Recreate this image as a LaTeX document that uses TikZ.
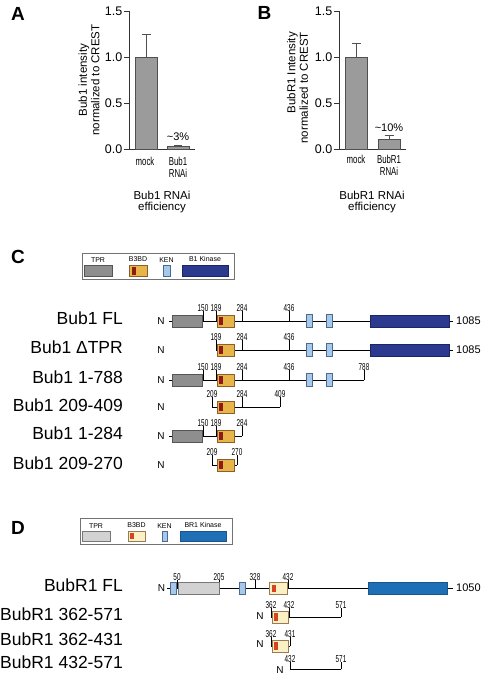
\documentclass[tikz,border=0pt]{standalone}
\usepackage{fontspec}
\setmainfont{Liberation Sans}
\newfontfamily\narrowfont[FakeStretch=0.68]{Liberation Sans}
\newfontfamily\numfont[FakeStretch=0.64]{Liberation Sans}
\usepackage{tikz}
\usetikzlibrary{positioning}
\definecolor{bargray}{HTML}{9B9B9B}
\definecolor{barline}{HTML}{505050}
\definecolor{tprdark}{HTML}{8E8E8E}
\definecolor{tprdarkline}{HTML}{555555}
\definecolor{bubbox}{HTML}{E8B548}
\definecolor{bubcore}{HTML}{8E1C16}
\definecolor{bubboxline}{HTML}{8A5E2E}
\definecolor{kenblue}{HTML}{A8C8EA}
\definecolor{kenline}{HTML}{4B6A92}
\definecolor{bonekin}{HTML}{2B3A8E}
\definecolor{bonekinline}{HTML}{1B2464}
\definecolor{tprlight}{HTML}{D2D2D2}
\definecolor{tprlightline}{HTML}{777777}
\definecolor{bubrbox}{HTML}{FBEFC4}
\definecolor{bubrcore}{HTML}{D4441F}
\definecolor{bubrboxline}{HTML}{9A7A56}
\definecolor{brkin}{HTML}{1F6FB7}
\definecolor{brkinline}{HTML}{1A568C}

\begin{document}
\begin{tikzpicture}[
    x=1pt, y=-1pt,
    panel/.style={inner sep=0pt, font=\fontsize{19}{19}\selectfont\bfseries},
    axisline/.style={line width=0.9pt, black!80},
    bar/.style={draw=barline, fill=bargray, line width=0.8pt},
    errbar/.style={line width=0.9pt, barline},
    ticklab/.style={anchor=east, inner sep=0pt, font=\fontsize{12.5}{12.5}\selectfont},
    catlab/.style={anchor=north, align=center, inner sep=0pt, font=\narrowfont\fontsize{11.5}{12}\selectfont},
    ytitle/.style={rotate=90, inner sep=0pt, font=\fontsize{11.5}{12.5}\selectfont},
    xtitle/.style={align=center, inner sep=0pt, font=\fontsize{11.5}{11.5}\selectfont},
    pctlab/.style={inner sep=0pt, font=\fontsize{11}{11}\selectfont},
    cname/.style={anchor=base east, inner sep=0pt, font=\fontsize{17.5}{17.5}\selectfont},
    nterm/.style={inner sep=0pt, font=\fontsize{10}{10}\selectfont},
    reslab/.style={anchor=base, inner sep=0pt, font=\numfont\fontsize{10}{10}\selectfont},
    endlab/.style={anchor=west, inner sep=0pt, font=\fontsize{11}{11}\selectfont},
    chain/.style={line width=0.8pt},
    restick/.style={line width=0.6pt},
    legendbox/.style={draw=black!55, fill=white, line width=0.8pt},
    legendlab/.style={inner sep=0pt, font=\fontsize{7}{7}\selectfont},
    legitem/.style={inner sep=0pt, minimum height=11pt},
    tprC/.style={draw=tprdarkline, fill=tprdark, line width=0.6pt},
    bubC/.style={draw=bubboxline, fill=bubbox, line width=0.6pt},
    kenbox/.style={draw=kenline, fill=kenblue, line width=0.6pt},
    kinC/.style={draw=bonekinline, fill=bonekin, line width=0.6pt},
    tprD/.style={draw=tprlightline, fill=tprlight, line width=0.6pt},
    bubD/.style={draw=bubrboxline, fill=bubrbox, line width=0.6pt},
    kinD/.style={draw=brkinline, fill=brkin, line width=0.6pt}
]
\useasboundingbox (0,0) rectangle (480,679);

% Panel A: Bub1 RNAi bar chart
\node[panel] (A) at (18,13.5) {A};
\draw[axisline] (129,11) -- (129,149) -- (195,149);
\foreach \v/\y/\n in {0.0/149/t0, 0.5/103/t1, 1.0/57/t2, 1.5/11/t3} {
  \draw[axisline] (124,\y) -- (129,\y);
  \node[ticklab] (a-\n) at (122.5,\y) {\v};
}
\draw[errbar] (146,57) -- (146,34) (141.5,34) -- (150.5,34);
\draw[bar] (135,149) rectangle (157,57);
\draw[errbar] (178,146) -- (178,145.2) (174,145.2) -- (182,145.2);
\draw[bar] (167,149) rectangle (189,146.3);
\node[pctlab] (a-pct) at (178,137) {\textasciitilde 3\%};
\node[catlab] (a-mock) at (145,156.5) {mock};
\node[catlab] (a-rnai) at (178,156.5) {Bub1\\RNAi};
\node[ytitle, align=center] (a-ytitle) at (89,80) {Bub1 intensity\\normalized to CREST};
\node[xtitle] (a-xtitle) at (162,202) {Bub1 RNAi\\efficiency};

% Panel B: BubR1 RNAi bar chart
\node[panel] (B) at (264.5,12.5) {B};
\draw[axisline] (339,11) -- (339,149) -- (406,149);
\foreach \v/\y/\n in {0.0/149/t0, 0.5/103/t1, 1.0/57/t2, 1.5/11/t3} {
  \draw[axisline] (334,\y) -- (339,\y);
  \node[ticklab] (b-\n) at (332.5,\y) {\v};
}
\draw[errbar] (356,57) -- (356,43) (351.5,43) -- (360.5,43);
\draw[bar] (345,149) rectangle (367,57);
\draw[errbar] (389,139) -- (389,135) (384.5,135) -- (393.5,135);
\draw[bar] (378,149) rectangle (400,139);
\node[pctlab] (b-pct) at (389,128) {\textasciitilde 10\%};
\node[catlab] (b-mock) at (356,154.5) {mock};
\node[catlab] (b-rnai) at (389,154.5) {BubR1\\RNAi};
\node[ytitle, align=right, anchor=east] (b-ytitle) at (297.5,32) {BubR1 Intensity\\normalized to CREST};
\node[xtitle] (b-xtitle) at (372,202) {BubR1 RNAi\\efficiency};

% Panel C: Bub1 constructs
\node[panel] (C) at (18,257) {C};
\draw[legendbox] (82,253) rectangle (234,279);
\node[legitem, tprC, minimum width=28pt] (c-leg-tpr) at (98,270.5) {};
\node[legitem, bubC, minimum width=18pt] (c-leg-b3bd) at (138,270.5) {};
\fill[bubcore] (131.5,266.5) rectangle (135.5,274.5);
\node[legitem, kenbox, minimum width=7pt] (c-leg-ken) at (166.5,270.5) {};
\node[legitem, kinC, minimum width=46pt] (c-leg-kin) at (205,270.5) {};
\node[legendlab, above=2.5pt of c-leg-tpr] (c-leg-tpr-t) {TPR};
\node[legendlab, above=2.5pt of c-leg-b3bd] (c-leg-b3bd-t) {B3BD};
\node[legendlab, above=2.5pt of c-leg-ken] (c-leg-ken-t) {KEN};
\node[legendlab, above=2.5pt of c-leg-kin] (c-leg-kin-t) {B1 Kinase};

% Bub1 FL
\node[cname] (c1-name) at (123,324.5) {Bub1 FL};
\node[nterm] (c1-n) at (161,321) {N};
\draw[chain] (169,321) -- (453,321);
\foreach \x/\r in {203/150, 216/189, 242/284, 289/436}
  \draw[restick] (\x,321) -- (\x,311) node[reslab] (c1-\r) {\r};
\draw[tprC] (172,315) rectangle (202,327);
\draw[bubC] (217,315) rectangle (234,327);
\fill[bubcore] (219,317) rectangle (223,325);
\foreach \x in {306,326} \draw[kenbox] (\x,314.5) rectangle ++(6,13);
\draw[kinC] (370,315) rectangle (449,327);
\node[endlab] (c1-end) at (456,321) {1085};

% Bub1 dTPR
\node[cname] (c2-name) at (123,353.5) {Bub1 ΔTPR};
\node[nterm] (c2-n) at (161,350) {N};
\draw[chain] (216,350) -- (453,350);
\foreach \x/\r in {216/189, 242/284, 289/436}
  \draw[restick] (\x,350) -- (\x,340) node[reslab] (c2-\r) {\r};
\draw[bubC] (217,344) rectangle (234,356);
\fill[bubcore] (219,346) rectangle (223,354);
\foreach \x in {306,326} \draw[kenbox] (\x,343.5) rectangle ++(6,13);
\draw[kinC] (370,344) rectangle (449,356);
\node[endlab] (c2-end) at (456,350) {1085};

% Bub1 1-788
\node[cname] (c3-name) at (123,383) {Bub1 1-788};
\node[nterm] (c3-n) at (161,380) {N};
\draw[chain] (169,380) -- (364,380);
\foreach \x/\r in {203/150, 216/189, 242/284, 289/436, 364/788}
  \draw[restick] (\x,380) -- (\x,370) node[reslab] (c3-\r) {\r};
\draw[tprC] (172,374) rectangle (202,386);
\draw[bubC] (217,374) rectangle (234,386);
\fill[bubcore] (219,376) rectangle (223,384);
\foreach \x in {306,326} \draw[kenbox] (\x,373.5) rectangle ++(6,13);

% Bub1 209-409
\node[cname] (c4-name) at (123,411) {Bub1 209-409};
\node[nterm] (c4-n) at (161,407) {N};
\draw[chain] (212,407) -- (280,407);
\foreach \x/\r in {212/209, 242/284, 280/409}
  \draw[restick] (\x,407) -- (\x,397) node[reslab] (c4-\r) {\r};
\draw[bubC] (217,401) rectangle (234,413);
\fill[bubcore] (219,403) rectangle (223,411);

% Bub1 1-284
\node[cname] (c5-name) at (123,439) {Bub1 1-284};
\node[nterm] (c5-n) at (161,436) {N};
\draw[chain] (169,436) -- (242,436);
\foreach \x/\r in {203/150, 216/189, 242/284}
  \draw[restick] (\x,436) -- (\x,426) node[reslab] (c5-\r) {\r};
\draw[tprC] (172,430) rectangle (202,442);
\draw[bubC] (217,430) rectangle (234,442);
\fill[bubcore] (219,432) rectangle (223,440);

% Bub1 209-270
\node[cname] (c6-name) at (123,469) {Bub1 209-270};
\node[nterm] (c6-n) at (161,465) {N};
\draw[chain] (212,465) -- (237,465);
\foreach \x/\r in {212/209, 237/270}
  \draw[restick] (\x,465) -- (\x,455) node[reslab] (c6-\r) {\r};
\draw[bubC] (217,459) rectangle (234,471);
\fill[bubcore] (219,461) rectangle (223,469);

% Panel D: BubR1 constructs
\node[panel] (D) at (18,528) {D};
\draw[legendbox] (80,518) rectangle (232,544);
\node[legitem, tprD, minimum width=28pt, minimum height=10pt] (d-leg-tpr) at (96,536) {};
\node[legitem, bubD, minimum width=17pt, minimum height=10pt] (d-leg-b3bd) at (136.5,536) {};
\fill[bubrcore] (130,533) rectangle (134,539);
\node[legitem, kenbox, minimum width=5pt, minimum height=10pt] (d-leg-ken) at (164.5,536) {};
\node[legitem, kinD, minimum width=46pt, minimum height=10pt] (d-leg-kin) at (203,536) {};
\node[legendlab, above=2.5pt of d-leg-tpr] (d-leg-tpr-t) {TPR};
\node[legendlab, above=2.5pt of d-leg-b3bd] (d-leg-b3bd-t) {B3BD};
\node[legendlab, above=2.5pt of d-leg-ken] (d-leg-ken-t) {KEN};
\node[legendlab, above=2.5pt of d-leg-kin] (d-leg-kin-t) {BR1 Kinase};

% BubR1 FL
\node[cname] (d1-name) at (123,591) {BubR1 FL};
\node[nterm] (d1-n) at (161.5,588) {N};
\draw[chain] (167,588) -- (453,588);
\foreach \x/\r in {177/50, 219/205, 255/328, 288/432}
  \draw[restick] (\x,588) -- (\x,580) node[reslab] (d1-\r) {\r};
\draw[kenbox] (170,582) rectangle (176,594);
\draw[tprD] (178,582) rectangle (219,594);
\draw[kenbox] (239,582) rectangle (245.5,594);
\draw[bubD] (269,582) rectangle (287,594);
\fill[bubrcore] (272,584.5) rectangle (276,591.5);
\draw[kinD] (368,582) rectangle (447,594);
\node[endlab] (d1-end) at (456,588) {1050};

% BubR1 362-571
\node[cname] (d2-name) at (123,620.5) {BubR1 362-571};
\node[nterm] (d2-n) at (260,616) {N};
\draw[chain] (271,617) -- (341,617);
\foreach \x/\r in {271/362, 289/432, 341/571}
  \draw[restick] (\x,617) -- (\x,608) node[reslab] (d2-\r) {\r};
\draw[bubD] (272,611) rectangle (288,623);
\fill[bubrcore] (273.5,613) rectangle (277.5,621);

% BubR1 362-431
\node[cname] (d3-name) at (123,645) {BubR1 362-431};
\node[nterm] (d3-n) at (260,644) {N};
\draw[chain] (271,646) -- (290,646);
\foreach \x/\r in {271/362, 290/431}
  \draw[restick] (\x,646) -- (\x,637) node[reslab] (d3-\r) {\r};
\draw[bubD] (272,640) rectangle (288,652);
\fill[bubrcore] (273.5,642) rectangle (277.5,650);

% BubR1 432-571
\node[cname] (d4-name) at (123,668) {BubR1 432-571};
\node[nterm] (d4-n) at (280,670) {N};
\draw[chain] (290,669) -- (341,669);
\foreach \x/\r in {290/432, 341/571}
  \draw[restick] (\x,669) -- (\x,662) node[reslab] (d4-\r) {\r};

\end{tikzpicture}
\end{document}
